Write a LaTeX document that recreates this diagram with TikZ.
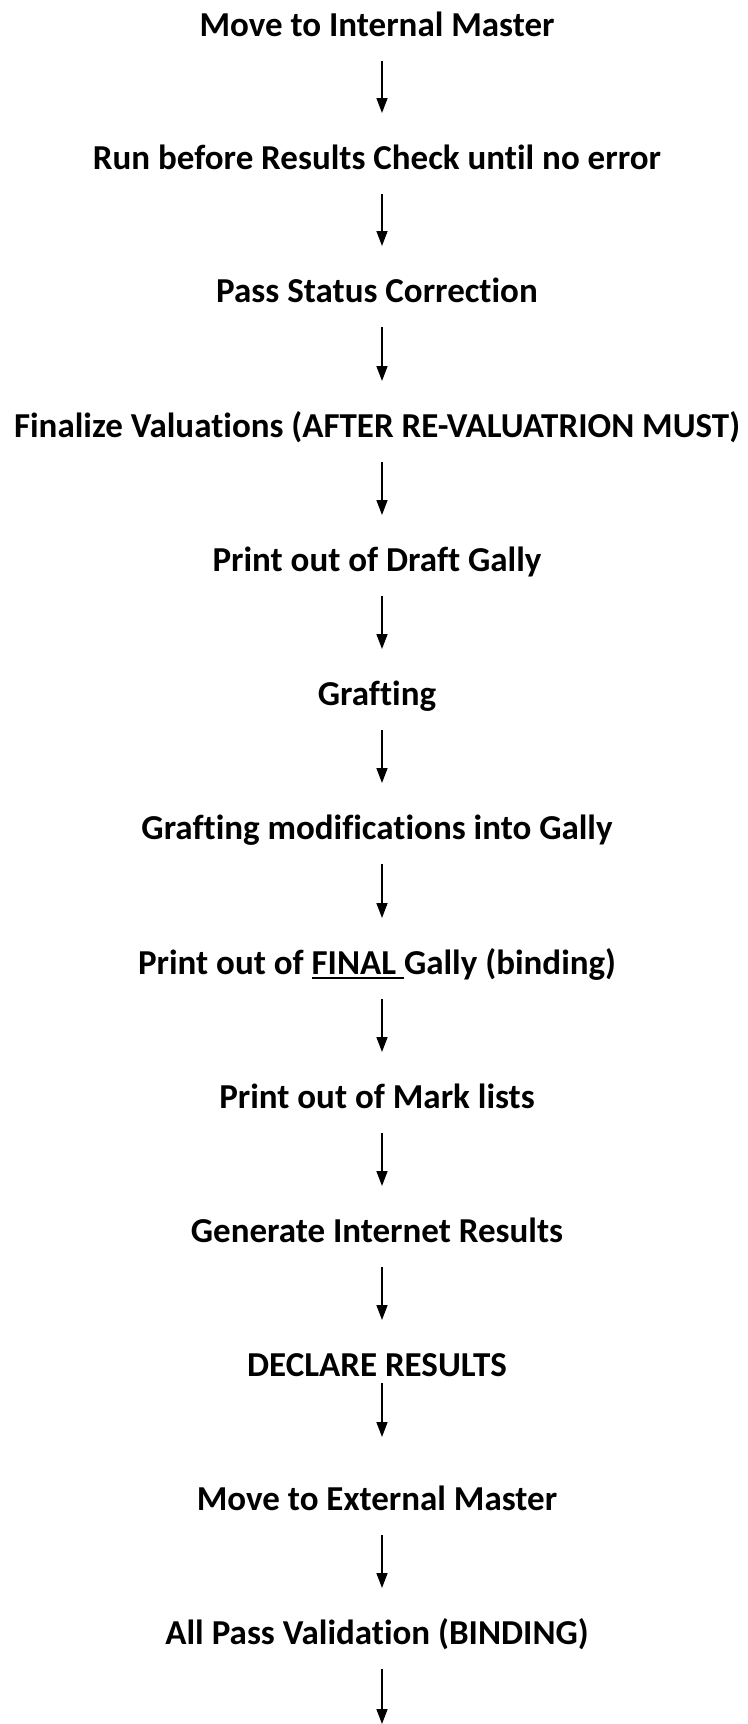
\documentclass[tikz,border=0pt]{standalone}
\usepackage{fontspec}
\setmainfont{Carlito}[Ligatures=NoCommon]
\usetikzlibrary{arrows.meta}
\newcommand\ulfinal[1]{\setbox0\hbox{#1}\rlap{\rule[-5pt]{\wd0}{2.5pt}}\box0}
\tikzset{
  lbl/.style={anchor=base, inner sep=0pt, font=\fontsize{35}{42}\selectfont\bfseries},
  arr/.style={line width=1.5pt, -{Triangle[length=15pt,width=11pt]}}
}
\begin{document}
\begin{tikzpicture}[x=1pt,y=-1pt]
\useasboundingbox[fill=white] (0,0) rectangle (747,1724);
\node[lbl] (n1) at (377,36) {Move to Internal Master};
\node[lbl] (n2) at (377,169) {Run before Results Check until no error};
\node[lbl] (n3) at (377,302) {Pass Status Correction};
\node[lbl] (n4) at (377,437) {Finalize Valuations (AFTER RE-VALUATRION MUST)};
\node[lbl] (n5) at (377,571) {Print out of Draft Gally};
\node[lbl] (n6) at (377,705) {Grafting};
\node[lbl] (n7) at (377,839) {Grafting modifications into Gally};
\node[lbl] (n8) at (377,974) {Print out of \ulfinal{FINAL\ }Gally (binding)};
\node[lbl] (n9) at (377,1108) {Print out of Mark lists};
\node[lbl] (n10) at (377,1242) {Generate Internet Results};
\node[lbl] (n11) at (377,1376) {DECLARE RESULTS};
\node[lbl] (n12) at (377,1510) {Move to External Master};
\node[lbl] (n13) at (377,1644) {All Pass Validation (BINDING)};
\coordinate (bot) at (382,1724);
\foreach \a/\b in {n1/n2,n2/n3,n3/n4,n4/n5,n5/n6,n6/n7,n7/n8,n8/n9,n9/n10,n10/n11}{
  \draw[arr] ([xshift=5pt,yshift=-25pt]\a.base) -- ([xshift=5pt,yshift=56pt]\b.base);
}
\draw[arr] ([xshift=5pt,yshift=-7pt]n11.base) -- ([xshift=5pt,yshift=73pt]n12.base);
\draw[arr] ([xshift=5pt,yshift=-25pt]n12.base) -- ([xshift=5pt,yshift=56pt]n13.base);
\draw[arr] ([xshift=5pt,yshift=-25pt]n13.base) -- (bot);
\end{tikzpicture}
\end{document}
